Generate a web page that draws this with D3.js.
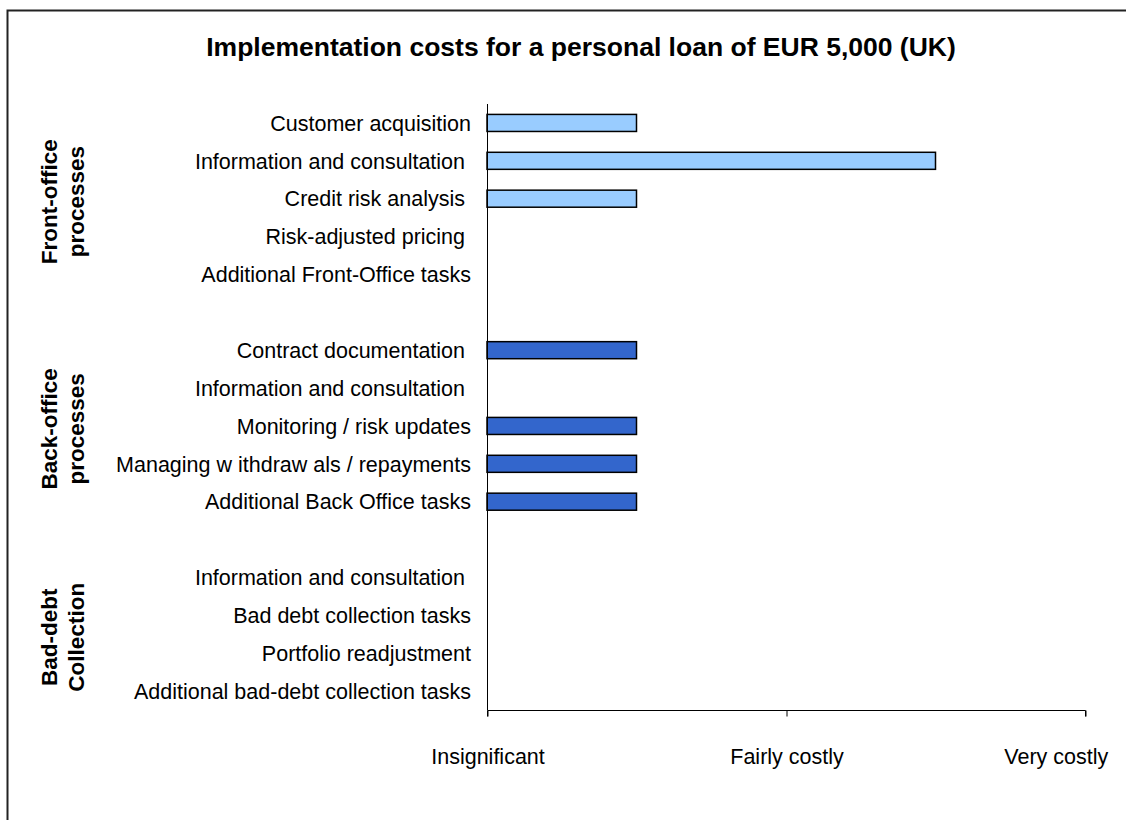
<!DOCTYPE html>
<html>
<head>
<meta charset="utf-8">
<script src="https://cdn.jsdelivr.net/npm/d3@7"></script>
<style>
  html, body { margin: 0; padding: 0; background: #fff; }
  svg text { font-family: "Liberation Sans", Arial, sans-serif; white-space: pre; }
</style>
</head>
<body>
<svg id="chart" width="1126" height="820"></svg>
<script>
// ---- data ----
const title = "Implementation costs for a personal loan of EUR 5,000 (UK)";
const categories = [
  "Customer acquisition",
  "Information and consultation ",
  "Credit risk analysis ",
  "Risk-adjusted pricing ",
  "Additional Front-Office tasks",
  "",
  "Contract documentation ",
  "Information and consultation ",
  "Monitoring / risk updates",
  "Managing w ithdraw als / repayments",
  "Additional Back Office tasks",
  "",
  "Information and consultation ",
  "Bad debt collection tasks",
  "Portfolio readjustment",
  "Additional bad-debt collection tasks"
];
const values = [0.5, 1.5, 0.5, 0, 0, null, 0.5, 0, 0.5, 0.5, 0.5, null, 0, 0, 0, 0];
const rowGroup = ["front","front","front","front","front", null,
                  "back","back","back","back","back", null,
                  "bad","bad","bad","bad"];
const groupNames = ["front", "back", "bad"];
const groupLabels = [["Front-office", "processes"], ["Back-office", "processes"], ["Bad-debt", "Collection"]];
const tickValues = [0, 1, 2];
const tickLabels = ["Insignificant", "Fairly costly", "Very costly"];
const groupColors = { front: "#99CCFF", back: "#3366CC", bad: "#3366CC" };

// ---- layout ----
const svg = d3.select("#chart");
const plotLeft = 487, plotRight = 1085, plotTop = 104, plotBottom = 710;

// outer frame (extends beyond the right/bottom edge)
svg.append("rect").attr("x", 7.5).attr("y", 10.5).attr("width", 1140).attr("height", 830)
  .attr("fill", "none").attr("stroke", "#222").attr("stroke-width", 2);

const x = d3.scaleLinear().domain([0, 2]).range([plotLeft, plotRight]);
const y = d3.scaleBand().domain(d3.range(categories.length)).range([plotTop, plotBottom])
  .paddingInner(0.55).paddingOuter(0.275);

// title
svg.append("text").attr("x", 581).attr("y", 56).attr("text-anchor", "middle")
  .attr("font-size", 26.5).attr("font-weight", "bold").attr("fill", "#000").text(title);

// bars
svg.append("g").selectAll("rect")
  .data(values.map((v, i) => ({v, i})).filter(d => d.v != null && d.v > 0))
  .join("rect")
  .attr("x", x(0))
  .attr("y", d => y(d.i))
  .attr("width", d => x(d.v) - x(0))
  .attr("height", y.bandwidth())
  .attr("fill", d => groupColors[rowGroup[d.i]])
  .attr("stroke", "#000").attr("stroke-width", 1.5);

// category labels
svg.append("g").selectAll("text")
  .data(categories.map((c, i) => ({c, i})).filter(d => d.c !== ""))
  .join("text")
  .attr("x", 471)
  .attr("y", d => y(d.i) + y.bandwidth() / 2)
  .attr("dy", "0.36em")
  .attr("text-anchor", "end")
  .attr("font-size", 21.5)
  .attr("fill", "#000")
  .text(d => d.c);

// vertical axis line
svg.append("line").attr("x1", plotLeft + 0.5).attr("x2", plotLeft + 0.5).attr("y1", plotTop).attr("y2", plotBottom)
  .attr("stroke", "#000").attr("stroke-width", 1);

// x axis
const xAxis = d3.axisBottom(x).tickValues(tickValues).tickSize(6).tickFormat((d, i) => tickLabels[i]);
const gx = svg.append("g").attr("transform", `translate(0.5,${plotBottom + 0.5})`).call(xAxis);
gx.select(".domain").attr("stroke", "#000").attr("d", `M${plotLeft},6V0H${plotRight}V6`);
gx.selectAll(".tick line").attr("stroke", "#000");
gx.selectAll(".tick text")
  .attr("font-family", "Liberation Sans, Arial, sans-serif")
  .attr("font-size", 21.5).attr("fill", "#000").attr("y", 46).attr("dy", "0.36em");
// keep last label within the frame
gx.selectAll(".tick text").each(function() {
  const bb = this.getBBox();
  const t = d3.select(this.parentNode).attr("transform");
  const tx = +t.match(/translate\(([-\d.]+)/)[1];
  const rightEdge = tx + bb.x + bb.width;
  if (rightEdge > 1108) d3.select(this).attr("x", 1108 - rightEdge);
});

// group labels (rotated)
groupNames.forEach((g, gi) => {
  const idx = rowGroup.map((r, i) => r === g ? i : -1).filter(i => i >= 0);
  const cy = (y(idx[0]) + y(idx[idx.length - 1]) + y.bandwidth()) / 2 + 3;
  const lines = groupLabels[gi];
  [57, 84].forEach((bx, li) => {
    svg.append("text")
      .attr("transform", `translate(${bx},${cy}) rotate(-90)`)
      .attr("text-anchor", "middle")
      .attr("font-size", 22.5).attr("font-weight", "bold").attr("fill", "#000")
      .text(lines[li]);
  });
});
</script>
</body>
</html>
